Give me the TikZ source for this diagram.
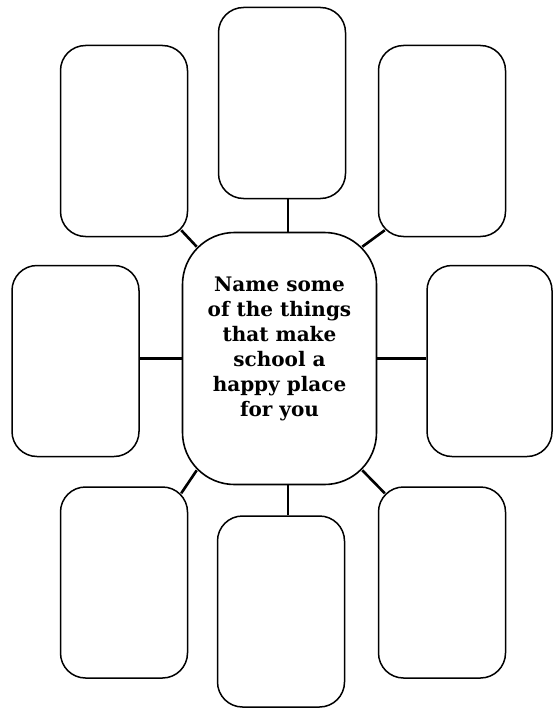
\documentclass[tikz,border=0pt]{standalone}
\usepackage{fontspec}
\newfontfamily\promptfont{DejaVu Serif}
\usetikzlibrary{positioning,calc,backgrounds}

\begin{document}
\begin{tikzpicture}[x=1pt, y=-1pt,
  ibox/.style={draw=black, fill=white, line width=1.5pt, rounded corners=25pt, minimum width=127pt, minimum height=191pt, inner sep=0pt},
  hub/.style={draw=black, fill=white, line width=1.6pt, rounded corners=52pt, minimum width=194pt, minimum height=252pt, inner sep=0pt},
  prompt/.style={align=center, font=\promptfont\bfseries\fontsize{20}{25}\selectfont},
  spoke/.style={draw=black, line width=2.6pt},
]
\useasboundingbox (0,0) rectangle (553,709);
\node[hub] (hub) at (279.5,358.5) {};
\node[prompt, yshift=10pt] (ask) at (hub) {Name some\\of the things\\that make\\school a\\happy place\\for you};
\node[ibox] (top) at (282,103) {};
\node[ibox] (topleft) at (124,141) {};
\node[ibox] (topright) at (442,141) {};
\node[ibox] (left) at (75.5,361) {};
\node[ibox, minimum width=125pt] (right) at (489.5,361) {};
\node[ibox] (botleft) at (124,582.5) {};
\node[ibox] (bot) at (281,611.5) {};
\node[ibox] (botright) at (442,582.5) {};
\coordinate (axis) at (288,0);
% spokes sit behind the boxes
\begin{scope}[on background layer]
\draw[spoke] (top.south -| axis) -- (hub.north -| axis);
\draw[spoke] (bot.north -| axis) -- (hub.south -| axis);
\draw[spoke] (left.east |- hub) -- (hub.west);
\draw[spoke] (right.west |- hub) -- (hub.east);
% corner spokes meet the rounded corners halfway round
\draw[spoke] ($(topleft.south east)+(-7,-7)$) -- ($(hub.north west)+(15,15)$);
\draw[spoke] ($(topright.south west)+(7,-7)$) -- ($(hub.north east)+(-15,15)$);
\draw[spoke] ($(botleft.north east)+(-7,7)$) -- ($(hub.south west)+(15,-15)$);
\draw[spoke] ($(botright.north west)+(7,7)$) -- ($(hub.south east)+(-15,-15)$);
\end{scope}
\end{tikzpicture}
\end{document}
